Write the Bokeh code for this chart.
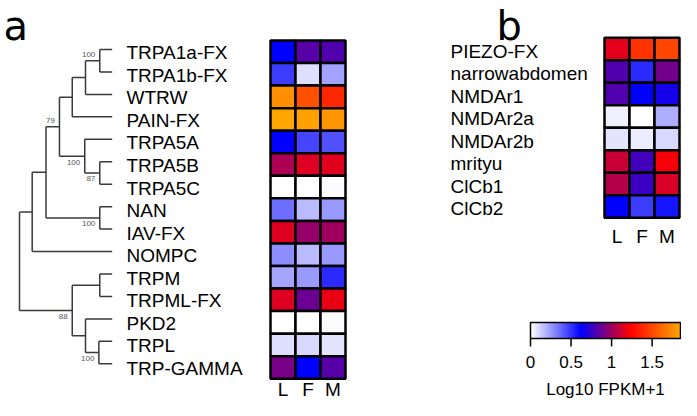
import numpy as np
from bokeh.plotting import figure
from bokeh.models import Range1d, ColumnDataSource, LinearColorMapper
from bokeh.core.properties import value
from bokeh.transform import transform
from bokeh.embed import file_html
from bokeh.resources import INLINE

# ---------------- data ----------------
stages = ["L", "F", "M"]

genes_a = ["TRPA1a-FX", "TRPA1b-FX", "WTRW", "PAIN-FX", "TRPA5A", "TRPA5B", "TRPA5C",
           "NAN", "IAV-FX", "NOMPC", "TRPM", "TRPML-FX", "PKD2", "TRPL", "TRP-GAMMA"]
expr_a_L = [0.62, 0.47, 1.76, 1.85, 0.62, 1.03, 0.00, 0.35, 1.15, 0.28, 0.22, 1.15, 0.00, 0.085, 0.91]
expr_a_F = [0.83, 0.085, 1.53, 1.83, 0.45, 1.15, 0.00, 0.17, 0.98, 0.17, 0.25, 0.88, 0.00, 0.10, 0.62]
expr_a_M = [0.81, 0.23, 1.38, 1.79, 0.42, 1.16, 0.01, 0.25, 1.00, 0.25, 0.52, 1.18, 0.01, 0.07, 0.83]

genes_b = ["PIEZO-FX", "narrowabdomen", "NMDAr1", "NMDAr2a", "NMDAr2b", "mrityu", "ClCb1", "ClCb2"]
expr_b_L = [1.17, 0.81, 0.81, 0.04, 0.07, 1.10, 1.05, 0.62]
expr_b_F = [1.42, 0.52, 0.62, 0.00, 0.05, 0.78, 0.76, 0.47]
expr_b_M = [1.49, 0.89, 0.67, 0.20, 0.10, 1.21, 1.14, 0.57]

# dendrogram (panel a): internal nodes, their children, depth from root (root=0, tips=1) and bootstrap
node_ids = ["root", "n1", "n2", "n3", "n4", "n5", "n6", "n7", "n8", "n9", "n10", "n11", "n12", "n13"]
node_children = [["n1", "n10"], ["n2", "NOMPC"], ["n3", "n9"], ["n4", "n7"], ["n5", "PAIN-FX"],
                 ["n6", "WTRW"], ["TRPA1a-FX", "TRPA1b-FX"], ["TRPA5A", "n8"], ["TRPA5B", "TRPA5C"],
                 ["NAN", "IAV-FX"], ["n11", "n12"], ["TRPM", "TRPML-FX"], ["PKD2", "n13"],
                 ["TRPL", "TRP-GAMMA"]]
node_depth = [0.0, 0.137, 0.286, 0.431, 0.569, 0.712, 0.866, 0.704, 0.866, 0.866, 0.569, 0.866, 0.712, 0.856]
node_support = ["", "", "", "79", "", "", "100", "100", "87", "100", "88", "", "", "100"]

colorbar_ticks = [0, 0.5, 1, 1.5]
colorbar_labels = ["0", "0.5", "1", "1.5"]
colorbar_title = "Log10 FPKM+1"
value_low, value_high = 0.0, 1.85

# ---------------- layout (pixel coordinates) ----------------
W, H = 681, 400
FONT = "Liberation Sans"
ha_x0, ha_y0, cw, ch_a = 270.0, 40.0, 25.0, 22.55
hb_x0, hb_y0, ch_b = 604.0, 37.3, 22.5
lab_a_x, lab_b_x = 126.0, 450.0
d_root_x, d_tip_x, d_top, d_step = 19.0, 111.7, 49.0, 22.45
support_above = {"n3", "n6"}
cb_x0, cb_w, cb_y0, cb_h, cb_tick = 530.0, 150.0, 322.0, 16.0, 8.0

# colour map white -> blue -> red -> orange
anchors = np.array([[255, 255, 255], [0, 0, 255], [255, 0, 0], [255, 165, 0]], dtype=float)
pos = np.linspace(0, 1, len(anchors))
tt = np.linspace(0, 1, 256)
rgb = np.stack([np.interp(tt, pos, anchors[:, k]) for k in range(3)], axis=1)
palette = ["#%02x%02x%02x" % tuple(int(round(c)) for c in row) for row in rgb]
mapper = LinearColorMapper(palette=palette, low=value_low, high=value_high)

p = figure(width=W, height=H, output_backend="svg", toolbar_location=None,
           x_range=Range1d(0, W), y_range=Range1d(H, 0),
           min_border=0, min_border_left=0, min_border_right=0, min_border_top=0, min_border_bottom=0)
p.axis.visible = False
p.grid.visible = False
p.outline_line_color = None
p.background_fill_color = "white"

# ---------------- heatmaps ----------------
def heat(genes, cols, x0, y0, ch):
    xs, ys, vs = [], [], []
    for i, g in enumerate(genes):
        for j, s in enumerate(stages):
            xs.append(x0 + (j + 0.5) * cw)
            ys.append(y0 + (i + 0.5) * ch)
            vs.append(cols[j][i])
    src = ColumnDataSource(dict(x=xs, y=ys, v=vs))
    p.rect("x", "y", width=cw, height=ch, source=src, fill_color=transform("v", mapper),
           line_color="black", line_width=2.5)

heat(genes_a, [expr_a_L, expr_a_F, expr_a_M], ha_x0, ha_y0, ch_a)
heat(genes_b, [expr_b_L, expr_b_F, expr_b_M], hb_x0, hb_y0, ch_b)

# gene labels
p.text(x=[lab_a_x] * len(genes_a), y=[ha_y0 + (i + 0.5) * ch_a + 1 for i in range(len(genes_a))],
       text=genes_a, text_font=value(FONT), text_font_size="19px", text_baseline="middle",
       text_align="left", text_color="black")
p.text(x=[lab_b_x] * len(genes_b), y=[hb_y0 + (i + 0.5) * ch_b + 2 for i in range(len(genes_b))],
       text=genes_b, text_font=value(FONT), text_font_size="19px", text_baseline="middle",
       text_align="left", text_color="black")

# stage labels
p.text(x=[ha_x0 + (j + 0.5) * cw for j in range(3)], y=[ha_y0 + len(genes_a) * ch_a + 11] * 3,
       text=stages, text_font=value(FONT), text_font_size="19px", text_baseline="middle",
       text_align="center", text_color="black")
p.text(x=[hb_x0 + (j + 0.5) * cw for j in range(3)], y=[hb_y0 + len(genes_b) * ch_b + 19] * 3,
       text=stages, text_font=value(FONT), text_font_size="19px", text_baseline="middle",
       text_align="center", text_color="black")

# panel letters
p.text(x=[3, 496], y=[25, 25], text=["a", "b"], text_font=value("DejaVu Sans"),
       text_font_size="40px", text_baseline="middle", text_align="left", text_color="black")

# ---------------- dendrogram ----------------
ypos = {g: d_top + k * d_step for k, g in enumerate(genes_a)}
xpos = {g: d_tip_x for g in genes_a}
idx = {n: k for k, n in enumerate(node_ids)}

def place(n):
    if n in ypos:
        return ypos[n]
    k = idx[n]
    ys = [place(c) for c in node_children[k]]
    ypos[n] = sum(ys) / len(ys)
    xpos[n] = d_root_x + node_depth[k] * (d_tip_x - d_root_x)
    return ypos[n]

place("root")
x0s, y0s, x1s, y1s = [], [], [], []
for k, n in enumerate(node_ids):
    cy = [ypos[c] for c in node_children[k]]
    x0s.append(xpos[n]); y0s.append(min(cy)); x1s.append(xpos[n]); y1s.append(max(cy))
    for c in node_children[k]:
        x0s.append(xpos[n]); y0s.append(ypos[c]); x1s.append(xpos[c]); y1s.append(ypos[c])
p.segment(x0=x0s, y0=y0s, x1=x1s, y1=y1s, line_color="#3a3a3a", line_width=1.5)

sx, sy, st = [], [], []
for k, n in enumerate(node_ids):
    if node_support[k]:
        sx.append(xpos[n] - 4.5)
        sy.append(ypos[n] + (-6.5 if n in support_above else 6))
        st.append(node_support[k])
p.text(x=sx, y=sy, text=st, text_font=value(FONT), text_font_size="8px", text_baseline="middle",
       text_align="right", text_color="#555555")

# ---------------- colour bar ----------------
grad = np.linspace(value_low, value_high, 300).reshape(1, -1)
p.image(image=[grad], x=cb_x0, y=cb_y0, dw=cb_w, dh=cb_h, color_mapper=mapper)
p.quad(left=[cb_x0], right=[cb_x0 + cb_w], top=[cb_y0], bottom=[cb_y0 + cb_h],
       fill_color=None, line_color="black", line_width=1.5)
tick_x = [cb_x0 + (t - value_low) / (value_high - value_low) * cb_w for t in colorbar_ticks]
p.segment(x0=tick_x, y0=[cb_y0 + cb_h] * len(tick_x), x1=tick_x,
          y1=[cb_y0 + cb_h + cb_tick] * len(tick_x), line_color="black", line_width=1.5)
p.text(x=tick_x, y=[cb_y0 + cb_h + cb_tick + 15] * len(tick_x), text=colorbar_labels,
       text_font=value(FONT), text_font_size="17px", text_baseline="middle", text_align="center",
       text_color="black")
p.text(x=[cb_x0 + cb_w / 2], y=[389], text=[colorbar_title], text_font=value(FONT),
       text_font_size="17px", text_baseline="middle", text_align="center", text_color="black")

open("out.html", "w").write(file_html(p, INLINE))
